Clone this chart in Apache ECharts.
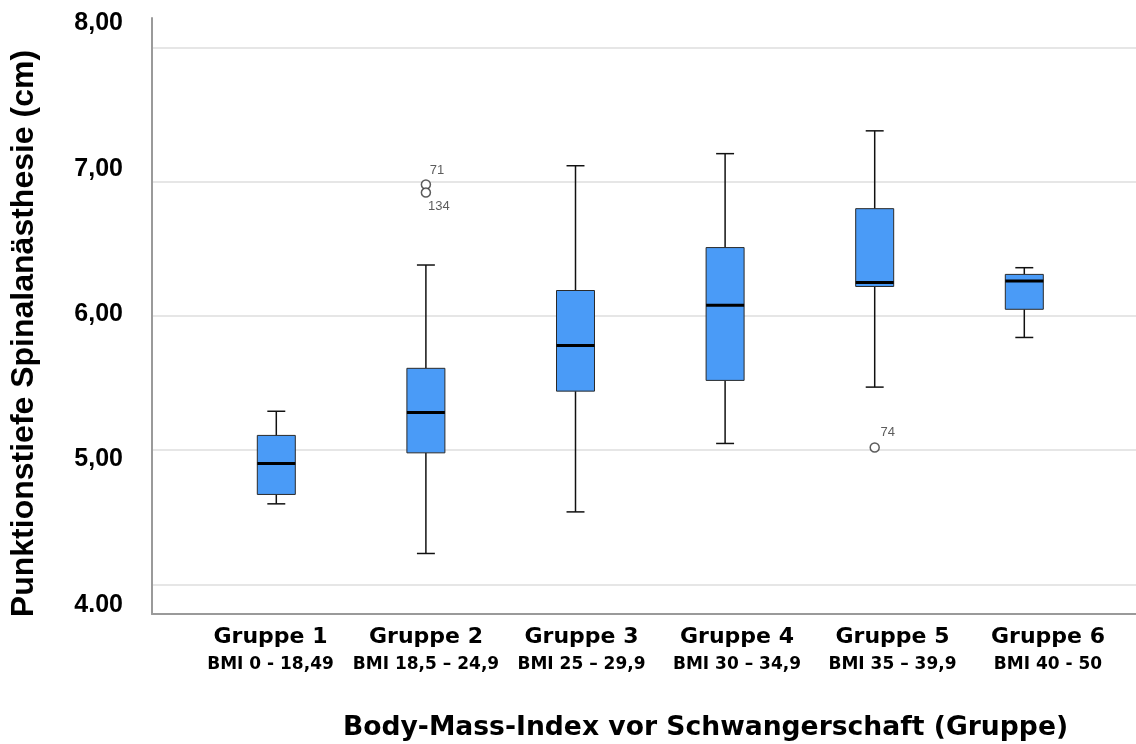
<!DOCTYPE html>
<html><head><meta charset="utf-8">
<script src="https://cdn.jsdelivr.net/npm/echarts@6/dist/echarts.min.js"></script>
<style>html,body{margin:0;padding:0;background:#fff}#c{width:1136px;height:744px}</style>
</head><body><div id="c"></div>
<script>
const groups = ['Gruppe 1','Gruppe 2','Gruppe 3','Gruppe 4','Gruppe 5','Gruppe 6'];
const bmiRanges = ['BMI 0 - 18,49','BMI 18,5 – 24,9','BMI 25 – 29,9','BMI 30 – 34,9','BMI 35 – 39,9','BMI 40 - 50'];
const whiskerLow = [4.60, 4.23, 4.54, 5.05, 5.47, 5.84];
const q1 = [4.67, 4.98, 5.44, 5.52, 6.22, 6.05];
const median = [4.90, 5.28, 5.78, 6.08, 6.25, 6.26];
const q3 = [5.11, 5.61, 6.19, 6.51, 6.80, 6.31];
const whiskerHigh = [5.29, 6.38, 7.12, 7.21, 7.38, 6.36];
const outlierGroup = [1, 1, 4];
const outlierValue = [6.98, 6.92, 5.02];
const outlierId = ['71', '134', '74'];
const yTickValues = [4, 5, 6, 7, 8];
const yTickLabels = ['4.00', '5,00', '6,00', '7,00', '8,00'];

const Y_MIN = 3.779, Y_MAX = 8.221;
const boxData = groups.map((g, i) => [i, whiskerLow[i], q1[i], median[i], q3[i], whiskerHigh[i]]);
const labelOffsets = [[11, -14], [13, 14], [13, -15]];
const outlierData = outlierGroup.map((g, k) => ({
  value: [g, outlierValue[k]],
  label: { formatter: outlierId[k], offset: labelOffsets[k] }
}));

const chart = echarts.init(document.getElementById('c'), null, { renderer: 'canvas' });
const axisLineStyle = { color: '#9a9a9a', width: 2 };
chart.setOption({
  animation: false,
  backgroundColor: '#fff',
  grid: [
    { left: 152, right: 0, top: 18, bottom: 130, outerBoundsMode: 'none', containLabel: false },
    { left: 201.5, width: 897.6, top: 18, bottom: 130, outerBoundsMode: 'none', containLabel: false },
    { left: 192.75, width: 933, top: 18, bottom: 130, outerBoundsMode: 'none', containLabel: false }
  ],
  xAxis: [
    {
      gridIndex: 0, type: 'value', min: 0, max: 1,
      axisLine: { show: true, onZero: false, lineStyle: axisLineStyle },
      axisTick: { show: false }, axisLabel: { show: false }, splitLine: { show: false },
      name: 'Body-Mass-Index vor Schwangerschaft (Gruppe)', nameLocation: 'middle', nameGap: 101,
      nameTextStyle: { fontFamily: 'DejaVu Sans', fontWeight: 'bold', fontSize: 26.6, color: '#000', padding: [0, 0, 0, 123] }
    },
    { gridIndex: 1, type: 'category', data: groups, show: false },
    {
      gridIndex: 2, type: 'category', data: groups,
      axisLine: { show: false }, axisTick: { show: false },
      axisLabel: {
        margin: 8, interval: 0,
        formatter: (v, i) => '{a|' + v + '}\n{b|' + bmiRanges[i] + '}',
        rich: {
          a: { fontFamily: 'DejaVu Sans', fontWeight: 'bold', fontSize: 22, lineHeight: 30, color: '#000' },
          b: { fontFamily: 'DejaVu Sans', fontWeight: 'bold', fontSize: 17, lineHeight: 26, color: '#000' }
        }
      }
    }
  ],
  yAxis: [
    {
      gridIndex: 0, type: 'value', position: 'left', min: Y_MIN, max: Y_MAX,
      axisLine: { show: true, lineStyle: axisLineStyle },
      axisTick: { show: false, customValues: yTickValues },
      axisLabel: { show: false },
      splitLine: { show: true, lineStyle: { color: '#dedede', width: 1.5 } },
      name: 'Punktionstiefe Spinalanästhesie (cm)', nameLocation: 'middle', nameGap: 112,
      nameTextStyle: { fontFamily: 'Liberation Sans', fontWeight: 'bold', fontSize: 32, color: '#000', padding: [0, 35, 0, 0] }
    },
    {
      gridIndex: 0, type: 'value', position: 'left', min: 3.938, max: 8.036,
      axisLine: { show: false }, axisTick: { show: false }, splitLine: { show: false },
      axisLabel: {
        customValues: yTickValues, margin: 29,
        formatter: v => yTickLabels[yTickValues.indexOf(Math.round(v))],
        fontFamily: 'Liberation Sans', fontWeight: 'bold', fontSize: 25, color: '#000'
      }
    },
    { gridIndex: 1, type: 'value', min: Y_MIN, max: Y_MAX, show: false, splitLine: { show: false } },
    { gridIndex: 2, type: 'value', min: Y_MIN, max: Y_MAX, show: false, splitLine: { show: false } }
  ],
  series: [
    {
      type: 'custom', xAxisIndex: 1, yAxisIndex: 2,
      encode: { x: 0, y: [1, 2, 3, 4, 5] },
      data: boxData,
      renderItem: (params, api) => {
        const i = api.value(0);
        const pLow = api.coord([i, api.value(1)]);
        const pQ1 = api.coord([i, api.value(2)]);
        const pMed = api.coord([i, api.value(3)]);
        const pQ3 = api.coord([i, api.value(4)]);
        const pHigh = api.coord([i, api.value(5)]);
        const band = api.size([1, 0])[0];
        const bw = band * 0.254, cw = band * 0.12;
        const cx = pMed[0];
        const ls = { stroke: '#111', lineWidth: 1.5 };
        return {
          type: 'group', children: [
            { type: 'line', shape: { x1: cx, y1: pHigh[1], x2: cx, y2: pQ3[1] }, style: ls },
            { type: 'line', shape: { x1: cx, y1: pQ1[1], x2: cx, y2: pLow[1] }, style: ls },
            { type: 'line', shape: { x1: cx - cw / 2, y1: pHigh[1], x2: cx + cw / 2, y2: pHigh[1] }, style: ls },
            { type: 'line', shape: { x1: cx - cw / 2, y1: pLow[1], x2: cx + cw / 2, y2: pLow[1] }, style: ls },
            { type: 'rect', shape: { x: cx - bw / 2, y: pQ3[1], width: bw, height: pQ1[1] - pQ3[1] }, style: { fill: '#4a9bf7', stroke: '#2a2a2a', lineWidth: 1 } },
            { type: 'line', shape: { x1: cx - bw / 2, y1: pMed[1], x2: cx + bw / 2, y2: pMed[1] }, style: { stroke: '#000', lineWidth: 3 } }
          ]
        };
      }
    },
    {
      type: 'scatter', xAxisIndex: 1, yAxisIndex: 2,
      symbol: 'circle', symbolSize: 9,
      itemStyle: { color: '#fff', borderColor: '#333', borderWidth: 1.5 },
      label: { show: true, position: 'inside', fontFamily: 'Liberation Sans', fontSize: 13, color: '#333' },
      data: outlierData
    }
  ]
});
</script>
</body></html>
